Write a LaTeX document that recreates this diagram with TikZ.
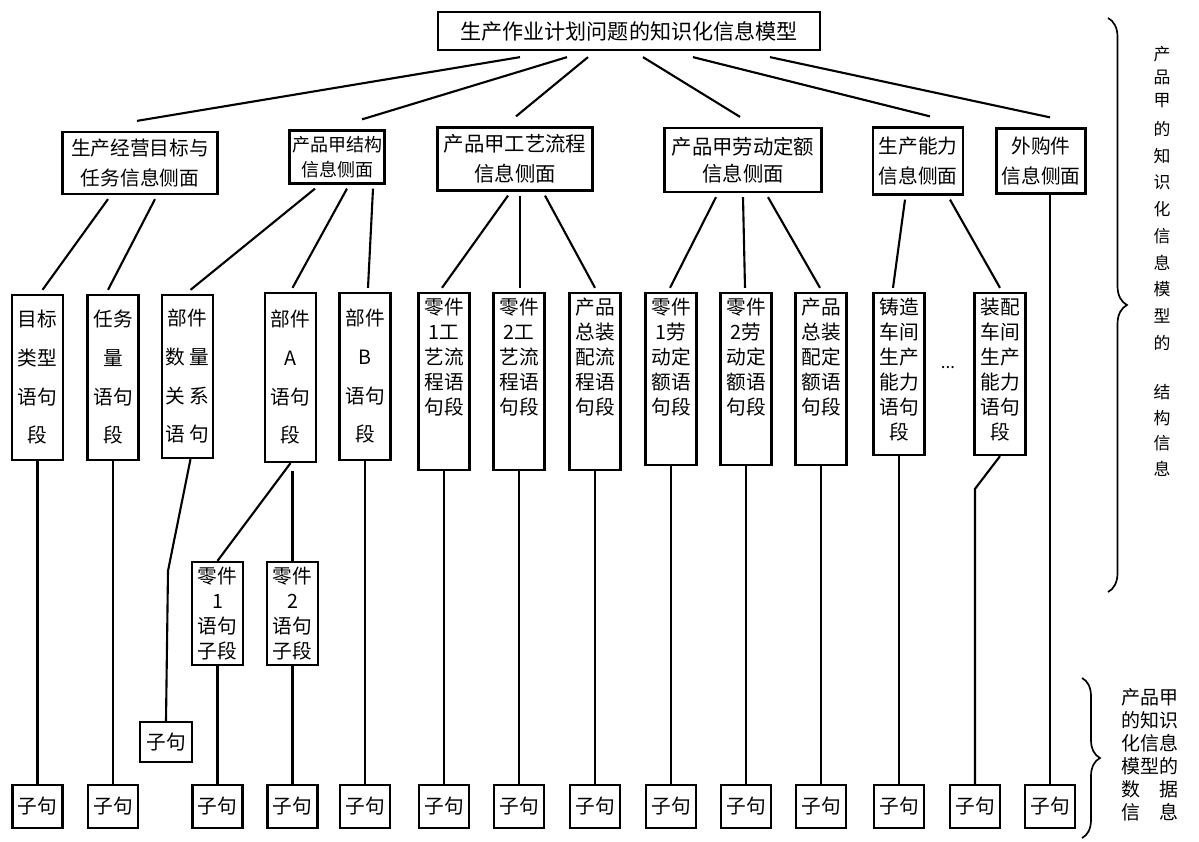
\documentclass[tikz,border=0pt]{standalone}
\usepackage{fontspec}
\setmainfont{Noto Sans CJK SC}
\usetikzlibrary{calc,decorations.pathreplacing}
\begin{document}
\begin{tikzpicture}[x=0.025cm,y=-0.025cm,
  frame/.style={draw,line width=1.6pt,inner sep=0pt,align=center},
  lvtwo/.style={frame,font=\fontsize{14}{21}\selectfont},
  leaf/.style={draw,line width=1.6pt,inner sep=0pt,minimum width=1.275cm},
  tall/.style={align=center,inner sep=0pt,font=\fontsize{14}{27.5}\selectfont},
  tight/.style={align=center,inner sep=0pt,font=\fontsize{14}{17.8}\selectfont},
  clause/.style={draw,line width=1.6pt,inner sep=0pt,minimum width=1.25cm,minimum height=1.075cm,font=\fontsize{14}{16}\selectfont},
  conn/.style={line width=1.5pt},
  bracestyle/.style={line width=1.2pt,decorate},
  side/.style={align=center,inner sep=0pt,anchor=north}
]
\fill[white] (0,0) rectangle (1199,842);

% top
\node[frame,minimum width=9.55cm,minimum height=0.95cm,font=\fontsize{15}{18}\selectfont] (top) at (629,31) {生产作业计划问题的知识化信息模型};

% level 2
\node[lvtwo,minimum width=3.875cm,minimum height=1.55cm] (b1) at (140,163) {生产经营目标与\\任务信息侧面};
\node[lvtwo,minimum width=2.375cm,minimum height=1.325cm,font=\fontsize{12.8}{18}\selectfont] (b2) at (337,157) {产品甲结构\\信息侧面};
\node[lvtwo,minimum width=3.875cm,minimum height=1.575cm,font=\fontsize{14.5}{21}\selectfont] (b3) at (515,159) {产品甲工艺流程\\信息侧面};
\node[lvtwo,minimum width=3.925cm,minimum height=1.6cm,font=\fontsize{14.5}{19.5}\selectfont] (b4) at (743,160) {产品甲劳动定额\\信息侧面};
\node[lvtwo,minimum width=2.25cm,minimum height=1.675cm] (b5) at (918,161) {生产能力\\信息侧面};
\node[lvtwo,minimum width=2.225cm,minimum height=1.625cm] (b6) at (1041,161) {外购件\\信息侧面};

% level 3
\node[leaf,minimum height=4.125cm] (c1) at (37.5,377.5) {};
\node[tall] (t1) at (c1.center) {目标\\类型\\语句\\段};
\node[leaf,minimum height=4.125cm] (c2) at (113,377.5) {};
\node[tall] (t2) at (c2.center) {任务\\量\\语句\\段};
\node[leaf,minimum height=4.075cm] (c3) at (187.5,376.5) {};
\node[tall] (t3) at (c3.center) {部件\\数\hspace{3pt}量\\关\hspace{3pt}系\\语\hspace{3pt}句};
\node[leaf,minimum height=4.225cm] (c4) at (290.5,377.5) {};
\node[tall] (t4) at (c4.center) {部件\\A\\语句\\段};
\node[leaf,minimum height=4.175cm] (c5) at (365,376.5) {};
\node[tall] (t5) at (c5.center) {部件\\B\\语句\\段};

\node[leaf,minimum height=4.425cm] (c6) at (444,381.5) {};
\node[tight,anchor=north] (t6) at ($(c6.north)+(0,6)$) {零件\\1工\\艺流\\程语\\句段};
\node[leaf,minimum height=4.425cm] (c7) at (519,381.5) {};
\node[tight,anchor=north] (t7) at ($(c7.north)+(0,6)$) {零件\\2工\\艺流\\程语\\句段};
\node[leaf,minimum height=4.425cm] (c8) at (595,381.5) {};
\node[tight,anchor=north] (t8) at ($(c8.north)+(0,6)$) {产品\\总装\\配流\\程语\\句段};
\node[leaf,minimum height=4.3cm] (c9) at (671,379) {};
\node[tight,anchor=north] (t9) at ($(c9.north)+(0,6)$) {零件\\1劳\\动定\\额语\\句段};
\node[leaf,minimum height=4.3cm] (c10) at (746,379) {};
\node[tight,anchor=north] (t10) at ($(c10.north)+(0,6)$) {零件\\2劳\\动定\\额语\\句段};
\node[leaf,minimum height=4.3cm] (c11) at (821,379) {};
\node[tight,anchor=north] (t11) at ($(c11.north)+(0,6)$) {产品\\总装\\配定\\额语\\句段};
\node[leaf,minimum height=4.05cm] (c12) at (899,374) {};
\node[tight,anchor=north] (t12) at ($(c12.north)+(0,6)$) {铸造\\车间\\生产\\能力\\语句\\段};
\node[leaf,minimum height=4.05cm] (c13) at (1000,374) {};
\node[tight,anchor=north] (t13) at ($(c13.north)+(0,6)$) {装配\\车间\\生产\\能力\\语句\\段};
\node[font=\fontsize{12}{12}\selectfont,inner sep=0pt] (dots) at (948,368) {...};

% level 4
\node[leaf,minimum height=2.575cm] (d1) at (217.5,613.5) {};
\node[tight] (t14) at (d1.center) {零件\\1\\语句\\子段};
\node[leaf,minimum height=2.575cm] (d2) at (292.5,613.5) {};
\node[tight] (t15) at (d2.center) {零件\\2\\语句\\子段};
\node[clause,minimum width=1.3cm,minimum height=1cm] (e3) at (166,742) {子句};

% bottom clauses
\node[clause] (z1) at (37.5,806.5) {子句};
\node[clause] (z2) at (113,806.5) {子句};
\node[clause] (z3) at (217.5,806.5) {子句};
\node[clause] (z4) at (292.5,806.5) {子句};
\node[clause] (z5) at (365,806.5) {子句};
\node[clause] (z6) at (444,806.5) {子句};
\node[clause] (z7) at (519,806.5) {子句};
\node[clause] (z8) at (595,806.5) {子句};
\node[clause] (z9) at (671,806.5) {子句};
\node[clause] (z10) at (746,806.5) {子句};
\node[clause] (z11) at (821,806.5) {子句};
\node[clause] (z12) at (899,806.5) {子句};
\node[clause] (z13) at (975,806.5) {子句};
\node[clause] (z14) at (1050,806.5) {子句};

% connectors top -> level 2
\draw[conn] ($(top.south)+(-109,6)$) -- ($(b1.north)+(-3,-10)$);
\draw[conn] ($(top.south)+(-62,6)$) -- ($(b2.north)+(25,-10)$);
\draw[conn] ($(top.south)+(-41,6)$) -- ($(b3.north)+(1,-10)$);
\draw[conn] ($(top.south)+(14,6)$) -- ($(b4.north)+(-3,-10)$);
\draw[conn] ($(top.south)+(64,6)$) -- ($(b5.north)+(12,-10)$);
\draw[conn] ($(top.south)+(141,6)$) -- ($(b6.north)+(9,-10)$);

% level 2 -> level 3
\draw[conn] ($(b1.south)+(-32,4)$) -- ($(c1.north)+(5,-4)$);
\draw[conn] ($(b1.south)+(15,4)$) -- ($(c2.north)+(-5,-4)$);
\draw[conn] ($(b2.south)+(-22,4)$) -- ($(c3.north)+(3,-4)$);
\draw[conn] ($(b2.south)+(10,4)$) -- ($(c4.north)+(2,-4)$);
\draw[conn] ($(b2.south)+(36,4)$) -- ($(c5.north)+(3,-4)$);
\draw[conn] ($(b3.south)+(-7,4)$) -- ($(c6.north)+(-2,-4)$);
\draw[conn] ($(b3.south)+(5,4)$) -- ($(c7.north)+(1,-4)$);
\draw[conn] ($(b3.south)+(30,4)$) -- ($(c8.north)+(0,-4)$);
\draw[conn] ($(b4.south)+(-27,4)$) -- ($(c9.north)+(-1,-4)$);
\draw[conn] ($(b4.south)+(0,4)$) -- ($(c10.north)+(-1,-4)$);
\draw[conn] ($(b4.south)+(25,4)$) -- ($(c11.north)+(-1,-4)$);
\draw[conn] ($(b5.south)+(-13,4)$) -- ($(c12.north)+(-6,-4)$);
\draw[conn] ($(b5.south)+(32,4)$) -- ($(c13.north)+(0,-4)$);
\draw[conn] (b6.south -| z14.north) -- (z14.north);

% level 3 -> lower
\draw[conn] (c1.south) -- (z1.north);
\draw[conn] (c2.south) -- (z2.north);
\draw[conn] ($(c3.south)+(3,0)$) -- ($(e3.north)+(2,-150)$) -- (e3.north);
\draw[conn] (c4.south) -- (d1.north);
\draw[conn] ($(c4.south)+(2,8)$) -- (d2.north);
\draw[conn] (d1.south) -- (z3.north);
\draw[conn] (d2.south) -- (z4.north);
\draw[conn] (c5.south) -- (z5.north);
\draw[conn] (c6.south) -- (z6.north);
\draw[conn] (c7.south) -- (z7.north);
\draw[conn] (c8.south) -- (z8.north);
\draw[conn] (c9.south) -- (z9.north);
\draw[conn] (c10.south) -- (z10.north);
\draw[conn] (c11.south) -- (z11.north);
\draw[conn] (c12.south) -- (z12.north);
\draw[conn] (c13.south) -- ($(z13.north)+(0,-295)$) -- (z13.north);

% braces and side texts
\draw[bracestyle,decoration={brace,amplitude=0.475cm}] (1108,18) -- (1108,592);
\draw[bracestyle,decoration={brace,amplitude=0.45cm}] (1082,678) -- (1082,838);
\node[side,font=\fontsize{12}{16.4}\selectfont] (rA) at (1162,46) {产\\品\\甲};
\node[side,font=\fontsize{12}{19}\selectfont] (rB) at (1162,121) {的\\知\\识\\化\\信\\息\\模\\型\\的};
\node[side,font=\fontsize{12}{18.3}\selectfont] (rC) at (1162,384) {结\\构\\信\\息};
\node[align=center,inner sep=0pt,font=\fontsize{13.5}{16.4}\selectfont] (rD) at (1150,755) {产品甲\\的知识\\化信息\\模型的\\数　据\\信　息};
\end{tikzpicture}
\end{document}
